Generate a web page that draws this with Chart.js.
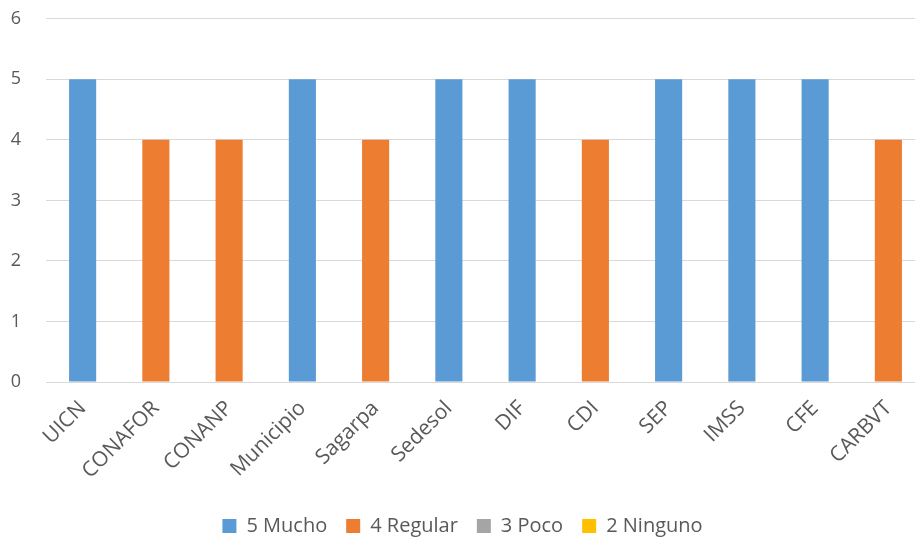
<!DOCTYPE html>
<html>
<head>
<meta charset="utf-8">
<script src="https://cdn.jsdelivr.net/npm/chart.js@4/dist/chart.umd.min.js"></script>
<style>
  html, body { margin: 0; padding: 0; background: #fff; overflow: hidden; }
  #wrap { width: 925px; height: 554px; margin-top: -17px; }
</style>
</head>
<body>
<div id="wrap"><canvas id="chart" width="925" height="554"></canvas></div>
<script>
// categories and series (null = no bar)
var categories = ["UICN", "CONAFOR", "CONANP", "Municipio", "Sagarpa", "Sedesol",
                  "DIF", "CDI", "SEP", "IMSS", "CFE", "CARBVT"];
var mucho   = [5, null, null, 5, null, 5, 5, null, 5, 5, 5, null];
var regular = [null, 4, 4, null, 4, null, null, 4, null, null, null, 4];
var poco    = [null, null, null, null, null, null, null, null, null, null, null, null];
var ninguno = [null, null, null, null, null, null, null, null, null, null, null, null];
var yTicks  = [0, 1, 2, 3, 4, 5, 6];

var textColor = "#595959";
var gridColor = "#d9d9d9";
var fontFamily = "'Open Sans', 'Liberation Sans', sans-serif";

function ds(label, data, color) {
    return {
        label: label,
        data: data,
        backgroundColor: color,
        borderWidth: 0,
        grouped: false,
        categoryPercentage: 1,
        barPercentage: 0.37
    };
}

var ctx = document.getElementById("chart").getContext("2d");
new Chart(ctx, {
    type: "bar",
    data: {
        labels: categories,
        datasets: [
            ds("5 Mucho", mucho, "#5b9bd5"),
            ds("4 Regular", regular, "#ed7d31"),
            ds("3 Poco", poco, "#a5a5a5"),
            ds("2 Ninguno", ninguno, "#ffc000")
        ]
    },
    options: {
        responsive: false,
        animation: false,
        devicePixelRatio: 1,
        layout: { padding: { top: 0, right: 0, bottom: -9, left: 0 } },
        plugins: {
            tooltip: { enabled: false },
            legend: {
                position: "bottom",
                labels: {
                    color: textColor,
                    font: { family: fontFamily, size: 20 },
                    boxWidth: 14,
                    boxHeight: 14,
                    padding: 19
                }
            }
        },
        scales: {
            x: {
                grid: { display: false, drawTicks: false },
                border: { display: true, color: gridColor, width: 1 },
                ticks: {
                    color: textColor,
                    font: { family: fontFamily, size: 21 },
                    minRotation: 45,
                    maxRotation: 45,
                    autoSkip: false,
                    padding: 14
                },
                afterFit: function (scale) { scale.height = 115; }
            },
            y: {
                min: 0,
                max: 6,
                afterBuildTicks: function (scale) {
                    scale.ticks = yTicks.map(function (v) { return { value: v }; });
                },
                grid: { color: gridColor, lineWidth: 1, drawTicks: false },
                border: { display: false },
                ticks: {
                    color: textColor,
                    font: { family: fontFamily, size: 18 },
                    padding: 25
                },
                afterFit: function (scale) { scale.width = 46; }
            }
        }
    }
});
</script>
</body>
</html>
